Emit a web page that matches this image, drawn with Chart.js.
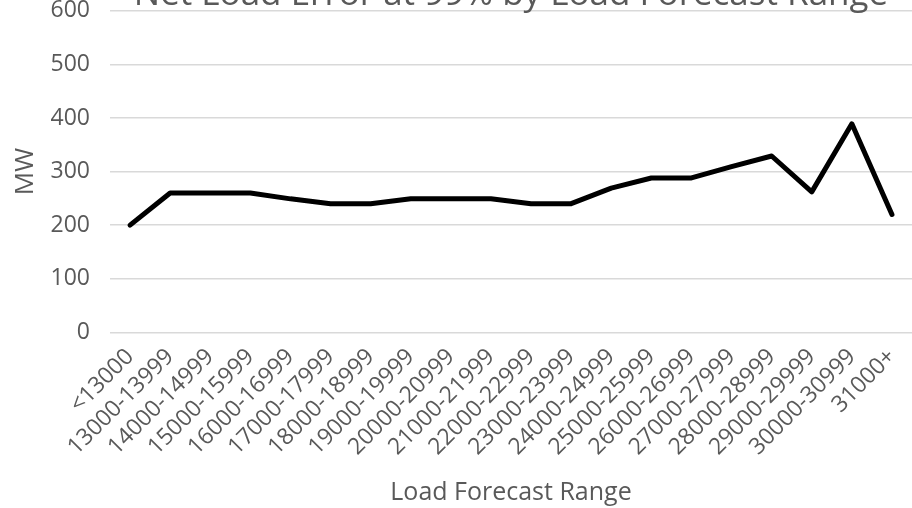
<!DOCTYPE html>
<html>
<head>
<meta charset="utf-8">
<script src="https://cdn.jsdelivr.net/npm/chart.js@4"></script>
<style>
  html, body { margin: 0; padding: 0; background: #fff; overflow: hidden; }
  #wrap { position: relative; width: 912px; height: 508px; overflow: hidden; }
  #holder { position: absolute; left: 0; top: -23px; width: 912px; height: 531px; }
</style>
</head>
<body>
<div id="wrap"><div id="holder"><canvas id="grafico"></canvas></div></div>
<script>
const faixas = ["<13000", "13000-13999", "14000-14999", "15000-15999", "16000-16999", "17000-17999",
    "18000-18999", "19000-19999", "20000-20999", "21000-21999", "22000-22999", "23000-23999",
    "24000-24999", "25000-25999", "26000-26999", "27000-27999", "28000-28999", "29000-29999",
    "30000-30999", "31000+"];
const erroMW = [200, 260, 260, 260, 249, 240, 240, 249, 249, 249, 240, 240, 269, 288, 288, 309, 329, 262, 389, 220];
const ticksY = [0, 100, 200, 300, 400, 500, 600];

const cinza = "#595959";
const fonte = "'Open Sans', 'Liberation Sans', sans-serif";

const ctx = document.getElementById("grafico").getContext("2d");
new Chart(ctx, {
    type: "line",
    data: {
        labels: faixas,
        datasets: [{
            label: "MW",
            data: erroMW,
            borderColor: "#000000",
            borderWidth: 5,
            pointRadius: 0,
            tension: 0,
            borderJoinStyle: "round",
            borderCapStyle: "round"
        }]
    },
    options: {
        responsive: true,
        maintainAspectRatio: false,
        animation: false,
        layout: { autoPadding: false, padding: { left: 10, right: 0, top: 0, bottom: 0 } },
        plugins: {
            legend: { display: false },
            tooltip: { enabled: false },
            title: {
                display: true,
                fullSize: false,
                text: "Net Load Error at 99% by Load Forecast Range",
                color: cinza,
                font: { family: fonte, size: 35, weight: "normal", lineHeight: 0.9 },
                padding: { top: 0, bottom: 0 }
            }
        },
        scales: {
            x: {
                offset: true,
                grid: { display: false },
                border: { display: false },
                ticks: {
                    color: cinza,
                    font: { family: fonte, size: 23 },
                    maxRotation: 45,
                    minRotation: 45,
                    autoSkip: false,
                    padding: 3
                },
                title: {
                    display: true,
                    text: "Load Forecast Range",
                    color: cinza,
                    font: { family: fonte, size: 25 },
                    padding: { top: 14, bottom: 0 }
                },
                afterFit: function (eixo) {
                    eixo.paddingLeft = 0;
                    eixo.paddingRight = 0;
                }
            },
            y: {
                min: 0,
                max: 600,
                afterBuildTicks: function (eixo) {
                    eixo.ticks = ticksY.map(function (v) { return { value: v }; });
                },
                afterFit: function (eixo) {
                    eixo.width = 100; // MW + rótulos + espaço até a grade
                },
                grid: { color: "#d9d9d9", lineWidth: 1.5, drawTicks: false },
                border: { display: false },
                ticks: {
                    color: cinza,
                    font: { family: fonte, size: 23 },
                    padding: 20
                },
                title: {
                    display: true,
                    text: "MW",
                    color: cinza,
                    font: { family: fonte, size: 26 },
                    padding: { top: 0, bottom: 6 }
                }
            }
        }
    }
});
</script>
</body>
</html>
